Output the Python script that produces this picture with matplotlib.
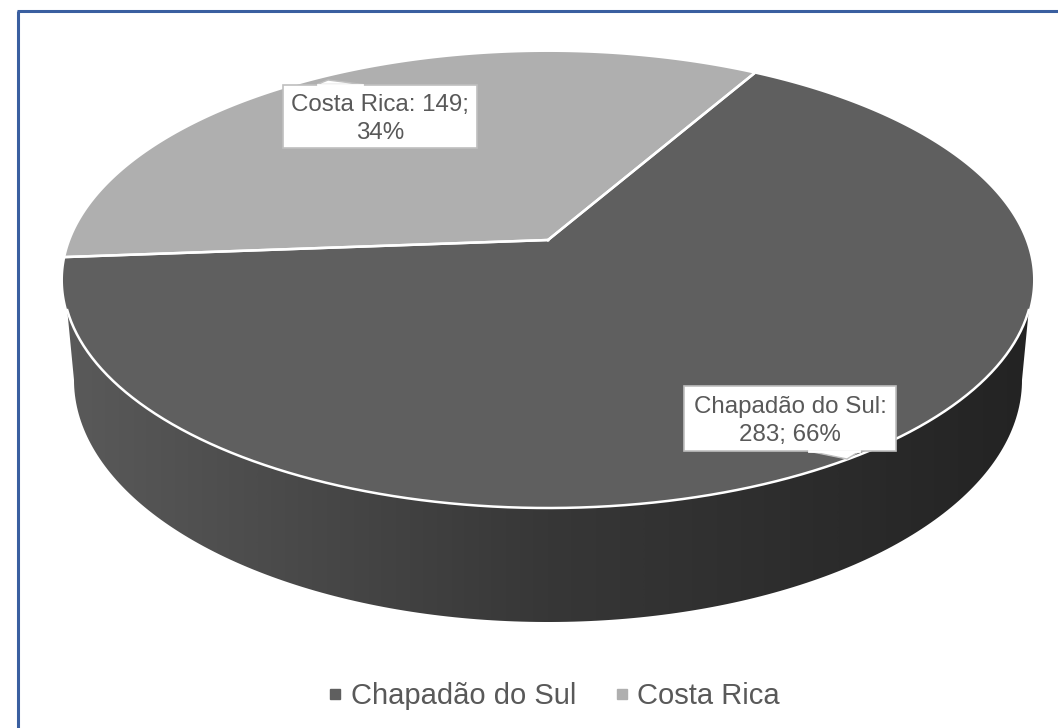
import numpy as np
import matplotlib
matplotlib.use("Agg")
import matplotlib.pyplot as plt
from matplotlib.patches import Polygon, Rectangle
from matplotlib.lines import Line2D
from matplotlib.colors import LinearSegmentedColormap

categories = ["Chapadão do Sul", "Costa Rica"]
values = [283, 149]
label_lines = ["{c}:\n{v}; {p}%", "{c}: {v};\n{p}%"]
colors = ["#5f5f5f", "#afafaf"]

plt.rcParams["font.family"] = ["Liberation Sans", "DejaVu Sans"]
TEXT = "#595959"

fig = plt.figure(figsize=(10.58, 7.28), dpi=100, facecolor="white")
ax = fig.add_axes([0, 0, 1, 1])

# perspective parameters of the top disc
CX, CY, R, H, K = 548.0, 240.0, 477.5, 221.0, 0.1754
START = 60.2


def project(theta_deg):
    t = np.radians(theta_deg)
    x, y = np.cos(t), np.sin(t)
    d = 1 + K * y
    return CX + R * x / d, CY - H * y / d


# side wall: front arc of top disc + lower rim
front = np.linspace(197.5, 342.5, 200)
fx, fy = project(front)
low = np.radians(np.linspace(0, 180, 200))
lx = 548 + 474 * np.cos(low)
ly = 380 + 242 * np.sin(low)
side_xy = np.column_stack([np.r_[fx, lx], np.r_[fy, ly]])
side = Polygon(side_xy, closed=True, facecolor="none", edgecolor="none")
ax.add_patch(side)
cmap = LinearSegmentedColormap.from_list(
    "side", [(0, "#5a5a5a"), (0.5, "#373737"), (1, "#232323")])
grad = ax.imshow(np.linspace(0, 1, 512)[None, :], cmap=cmap, vmin=0, vmax=1,
                 extent=(62, 1033, 640, 250), aspect="auto", zorder=1,
                 interpolation="bilinear")
grad.set_clip_path(side)

# top slices, clockwise from START
total = sum(values)
angle = START
for val, col in zip(values, colors):
    sweep = 360.0 * val / total
    th = np.linspace(angle, angle - sweep, 400)
    x, y = project(th)
    ax.add_patch(Polygon(np.column_stack([np.r_[CX, x], np.r_[CY, y]]), closed=True,
                         facecolor=col, edgecolor="none", zorder=2))
    for a in (angle, angle - sweep):
        ex, ey = project(a)
        ax.add_line(Line2D([CX, ex], [CY, ey], color="white", lw=1.8, zorder=3))
    angle -= sweep

# white front rim
ax.add_line(Line2D(fx, fy, color="white", lw=1.8, zorder=3))

# data labels with callouts
boxes = [(684, 386, 212, 65), (283, 84.5, 194, 63.5)]
tails = [[(808, 451), (847, 459), (860, 451)], [(317, 84.5), (328, 80), (363, 84.5)]]
for i, (cat, val) in enumerate(zip(categories, values)):
    bx, by, bw, bh = boxes[i]
    ax.add_patch(Rectangle((bx, by), bw, bh, facecolor="white", edgecolor="#bfbfbf",
                           lw=1.2, zorder=4))
    ax.add_patch(Polygon(tails[i], closed=True, facecolor="white", edgecolor="#bfbfbf",
                         lw=1.0, zorder=4))
    a, b, c = tails[i]
    ax.add_line(Line2D([a[0] + 1, c[0] - 1], [a[1], c[1]], color="white", lw=2, zorder=4.5))
    pct = round(100 * val / total)
    ax.text(bx + bw / 2, by + bh / 2 + 2.5, label_lines[i].format(c=cat, v=val, p=pct),
            ha="center", va="center", fontsize=17.4, color=TEXT, zorder=5, linespacing=1.38)

# frame (left and top only)
ax.add_line(Line2D([18, 18], [728, 10.5], color="#3a5fa0", lw=2.2, zorder=6,
                   solid_capstyle="butt"))
ax.add_line(Line2D([17, 1058], [10.5, 10.5], color="#3a5fa0", lw=2.2, zorder=6,
                   solid_capstyle="butt"))

# legend
handles = [Line2D([], [], linestyle="none", marker="s", markersize=7, color=c) for c in colors]
ax.legend(handles, categories, loc="center", bbox_to_anchor=(555 / 1058, 1 - 696.5 / 728),
          ncol=2, frameon=False, fontsize=21, labelcolor=TEXT, handlelength=0.35,
          handletextpad=0.35, columnspacing=1.4, borderpad=0, borderaxespad=0)

ax.set_xlim(0, 1058)
ax.set_ylim(728, 0)
ax.axis("off")
fig.savefig("out.png", dpi=100, facecolor="white")
